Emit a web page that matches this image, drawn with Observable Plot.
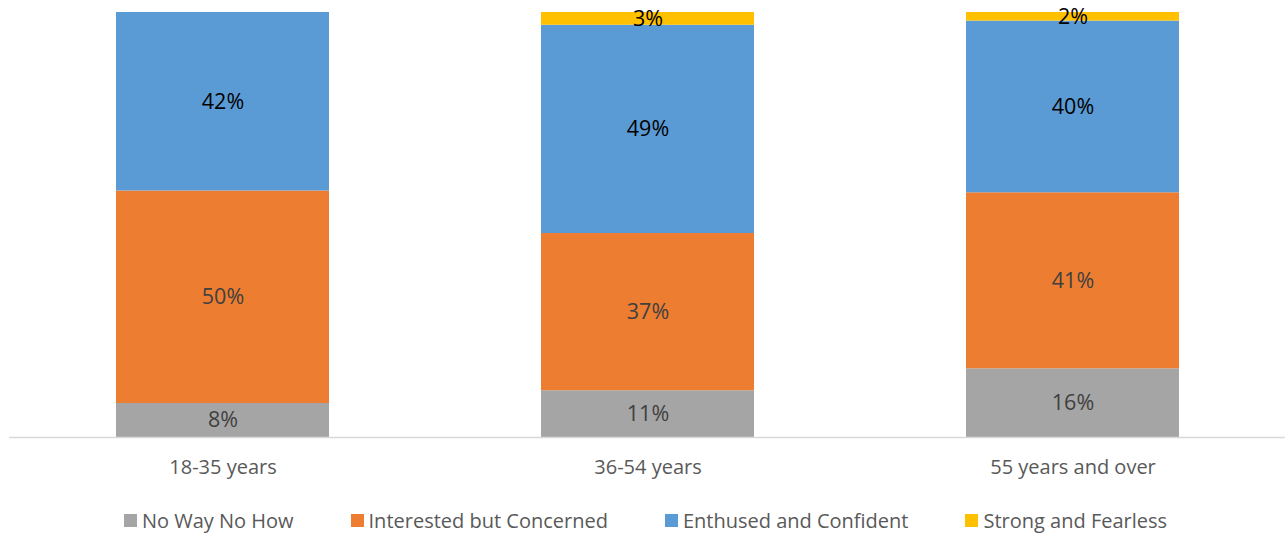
<!DOCTYPE html>
<html>
<head>
<meta charset="utf-8">
<script src="https://cdn.jsdelivr.net/npm/d3@7"></script>
<script src="https://cdn.jsdelivr.net/npm/@observablehq/plot@0.6"></script>
<style>
  body { margin: 0; background: #fff; font-family: "Open Sans", sans-serif; }
  #legend { display: flex; justify-content: center; gap: 57px; font-size: 20px; color: #595959; margin-top: 7px; padding-left: 6px; }
  #legend span.item { display: inline-flex; align-items: center; }
  #legend span.sw { display: inline-block; width: 13px; height: 13px; margin-right: 5px; }
</style>
</head>
<body>
<div id="chart"></div>
<div id="legend"></div>
<script>
const categories = ["18-35 years", "36-54 years", "55 years and over"];
const seriesNames = ["No Way No How", "Interested but Concerned", "Enthused and Confident", "Strong and Fearless"];
const seriesColors = ["#A5A5A5", "#ED7D31", "#5B9BD5", "#FFC000"];
const noWayNoHow = [8, 11, 16];
const interestedButConcerned = [50, 37, 41];
const enthusedAndConfident = [42, 49, 40];
const strongAndFearless = [0, 3, 2];

const seriesValues = [noWayNoHow, interestedButConcerned, enthusedAndConfident, strongAndFearless];
const data = [];
seriesNames.forEach((s, si) => categories.forEach((c, ci) => data.push({category: c, series: s, value: seriesValues[si][ci]})));

const darkLabel = new Set(["No Way No How", "Interested but Concerned"]);
const stackOpts = {x: "category", y: "value", z: "series", order: seriesNames, offset: "normalize"};

const chart = Plot.plot({
  width: 1285,
  height: 500,
  marginTop: 12,
  marginBottom: 63,
  marginLeft: 9,
  marginRight: 0,
  style: {fontFamily: "Open Sans, sans-serif", background: "#fff"},
  x: {domain: categories, paddingInner: 0.5, paddingOuter: 0.25, label: null},
  y: {axis: null, domain: [0, 1]},
  color: {domain: seriesNames, range: seriesColors},
  marks: [
    Plot.barY(data, Plot.stackY({...stackOpts, fill: "series"})),
    Plot.text(data, Plot.stackY({...stackOpts, text: d => (d.value > 0 && darkLabel.has(d.series)) ? d.value + "%" : "", fill: "#404040", fontSize: 21.5})),
    Plot.text(data, Plot.stackY({...stackOpts, text: d => (d.value > 0 && !darkLabel.has(d.series)) ? d.value + "%" : "", fill: "#000", fontSize: 21.5})),
    Plot.ruleY([0], {stroke: "#D9D9D9", strokeWidth: 1.5}),
    Plot.axisX({tickSize: 0, tickPadding: 22, fontSize: 20, fill: "#595959", label: null})
  ]
});
document.getElementById("chart").appendChild(chart);

const legend = document.getElementById("legend");
seriesNames.forEach((s, i) => {
  const item = document.createElement("span");
  item.className = "item";
  const sw = document.createElement("span");
  sw.className = "sw";
  sw.style.background = seriesColors[i];
  item.appendChild(sw);
  item.appendChild(document.createTextNode(s));
  legend.appendChild(item);
});
</script>
</body>
</html>
